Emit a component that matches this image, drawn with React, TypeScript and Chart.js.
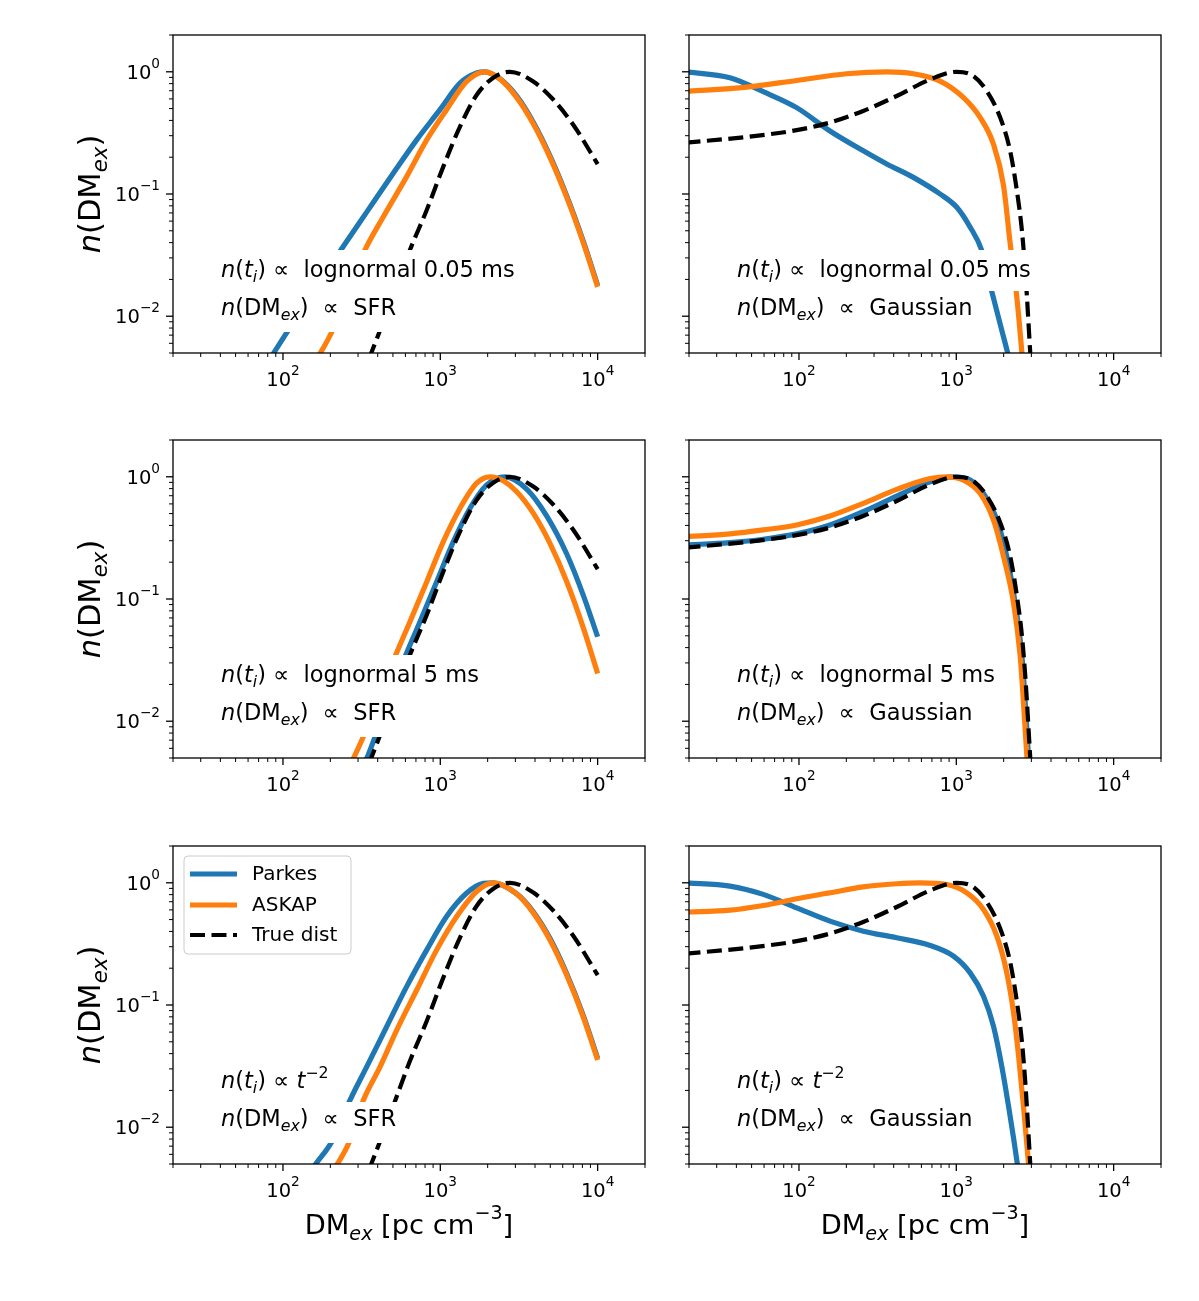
import React, { useEffect, useRef } from 'react';
import { Chart, registerables } from 'chart.js';

Chart.register(...registerables);

const FONT = '"DejaVu Sans", "Liberation Sans", sans-serif';
const BLUE = '#1f77b4';
const ORANGE = '#ff7f0e';
const BLACK = '#000000';

// ---------- axes ----------
const X_MIN = 20;
const X_MAX = 20000;
const Y_MIN = 0.005;
const Y_MAX = 2;
const X_TICKS = [100, 1000, 10000];
const X_TICK_EXP = ['2', '3', '4'];
const Y_TICKS = [0.01, 0.1, 1];
const Y_TICK_EXP = ['−2', '−1', '0'];
const X_MINOR = [20, 30, 40, 50, 60, 70, 80, 90, 200, 300, 400, 500, 600, 700, 800, 900, 2000, 3000, 4000, 5000, 6000, 7000, 8000, 9000, 20000];
const Y_MINOR = [0.005, 0.006, 0.007, 0.008, 0.009, 0.02, 0.03, 0.04, 0.05, 0.06, 0.07, 0.08, 0.09, 0.2, 0.3, 0.4, 0.5, 0.6, 0.7, 0.8, 0.9, 2];

const SERIES_LABELS = ['Parkes', 'ASKAP', 'True dist'];

// ---------- true distributions ----------
const trueSfrDM = [316, 366, 414, 501, 641, 820, 1045, 1334, 1702, 2173, 2773, 3899, 5236, 7015, 10000];
const trueSfrN = [0.00309, 0.00509, 0.00767, 0.0148, 0.0348, 0.074, 0.1675, 0.3565, 0.646, 0.895, 1.0, 0.832, 0.59, 0.367, 0.1758];

const trueGaussDM = [19, 46.5, 96.6, 157, 256, 418, 682, 1007, 1285, 1563, 1901, 2198, 2427, 2612, 2742, 2812, 2951, 3055];
const trueGaussN = [0.263, 0.293, 0.333, 0.384, 0.478, 0.634, 0.866, 1.0, 0.923, 0.695, 0.422, 0.2254, 0.1064, 0.0502, 0.0237, 0.01439, 0.00502, 0.00251];

// ---------- top-left: lognormal 0.05 ms, SFR ----------
const parkesTL_DM = [70.8, 87.9, 113, 158.5, 241.5, 340.4, 502.3, 707.9, 995.4, 1334, 1702, 1923, 2399, 3062, 3899, 4977, 6353, 8110, 10000];
const parkesTL_N = [0.00324, 0.00507, 0.00841, 0.0164, 0.03715, 0.0711, 0.1479, 0.2773, 0.4898, 0.807, 0.977, 1.0, 0.875, 0.633, 0.387, 0.2055, 0.097, 0.041, 0.0179];
const askapTL_DM = [141, 171.8, 204.2, 331.9, 434.5, 611, 820, 1096, 1472, 1923, 2399, 3062, 3899, 4977, 6353, 8110, 10000];
const askapTL_N = [0.00331, 0.00494, 0.00743, 0.0348, 0.0652, 0.1387, 0.2773, 0.4898, 0.834, 1.0, 0.871, 0.615, 0.376, 0.1995, 0.0942, 0.0398, 0.01738];

// ---------- top-right: lognormal 0.05 ms, Gaussian ----------
const parkesTR_DM = [19, 36.4, 59.3, 96.6, 157.4, 256.4, 361.4, 533.3, 788.9, 1007, 1225, 1452, 1683, 1950, 2148, 2344];
const parkesTR_N = [1.0, 0.893, 0.687, 0.509, 0.328, 0.2254, 0.1758, 0.1368, 0.1, 0.0778, 0.0535, 0.0345, 0.01585, 0.00759, 0.00468, 0.00282];
const askapTR_DM = [19, 46.45, 96.6, 200.9, 361.4, 533.3, 788.9, 1112, 1419, 1722, 1995, 2198, 2427, 2612, 2754];
const askapTR_N = [0.692, 0.75, 0.849, 0.964, 1.0, 0.964, 0.8395, 0.6138, 0.4217, 0.2559, 0.1175, 0.0398, 0.01413, 0.00501, 0.00224];

// ---------- middle-left: lognormal 5 ms, SFR ----------
const parkesML_DM = [281.8, 340.4, 384.6, 597, 743, 948.4, 1211, 1545, 1972, 2576, 3540, 4742, 6353, 8110, 10000];
const parkesML_N = [0.00316, 0.00494, 0.00743, 0.03365, 0.0652, 0.1387, 0.2951, 0.5534, 0.859, 1.0, 0.794, 0.479, 0.2344, 0.1072, 0.0491];
const askapML_DM = [234.4, 279.9, 323.6, 515.2, 641.2, 820.4, 1045, 1334, 1702, 2070, 2512, 3062, 3899, 4977, 6353, 8110, 10000];
const askapML_N = [0.00316, 0.00494, 0.00743, 0.03365, 0.0652, 0.1387, 0.2951, 0.5534, 0.887, 1.0, 0.927, 0.755, 0.5035, 0.285, 0.139, 0.0581, 0.0246];

// ---------- middle-right: lognormal 5 ms, Gaussian ----------
const parkesMR_DM = [19, 36.4, 59.3, 96.6, 157.4, 256.4, 417.8, 682.3, 959.4, 1225, 1489, 1811, 2094, 2366, 2612, 2742, 2877, 2951];
const parkesMR_N = [0.2767, 0.2897, 0.3083, 0.341, 0.4036, 0.5188, 0.695, 0.9099, 1.0, 0.9397, 0.7311, 0.4436, 0.2228, 0.0927, 0.0341, 0.01419, 0.00506, 0.00282];
const askapMR_DM = [19, 36.4, 59.3, 96.6, 157.4, 256.4, 417.8, 682.3, 871, 1112, 1419, 1722, 1995, 2312, 2547, 2673, 2812, 2884];
const askapMR_N = [0.3236, 0.341, 0.3673, 0.4036, 0.4775, 0.6067, 0.7889, 0.9683, 1.0, 0.9397, 0.7311, 0.4436, 0.2228, 0.0927, 0.0341, 0.01419, 0.00506, 0.00282];

// ---------- bottom-left: t^-2, SFR ----------
const parkesBL_DM = [131.8, 159.6, 204.2, 266.7, 340.4, 456, 611, 820.4, 1096, 1472, 1875, 2173, 3062, 3899, 4977, 6353, 8110, 10000];
const parkesBL_N = [0.00331, 0.00489, 0.00759, 0.01663, 0.03119, 0.0664, 0.1413, 0.2825, 0.5297, 0.824, 0.989, 1.0, 0.812, 0.58, 0.351, 0.181, 0.0818, 0.0366];
const askapBL_DM = [182, 219.3, 264.2, 324.3, 414, 528.4, 707.9, 948.4, 1271, 1702, 2173, 3062, 3899, 4977, 6353, 8110, 10000];
const askapBL_N = [0.00347, 0.00489, 0.00759, 0.01663, 0.03119, 0.0624, 0.1327, 0.2825, 0.5297, 0.849, 1.0, 0.809, 0.5675, 0.3404, 0.1758, 0.0794, 0.0355];

// ---------- bottom-right: t^-2, Gaussian ----------
const parkesBR_DM = [19, 36.4, 59.3, 96.6, 157.4, 256.4, 417.8, 682.3, 959.4, 1225, 1489, 1722, 1945, 2148, 2312, 2443, 2570];
const parkesBR_N = [1.0, 0.9397, 0.8035, 0.6237, 0.4853, 0.4018, 0.3548, 0.3069, 0.2512, 0.1832, 0.118, 0.0671, 0.03155, 0.01486, 0.00813, 0.00501, 0.00316];
const askapBR_DM = [19, 36.4, 59.3, 96.6, 157.4, 256.4, 417.8, 588.8, 871, 1167, 1489, 1811, 2094, 2312, 2489, 2673, 2877, 2985];
const askapBR_N = [0.5754, 0.597, 0.6516, 0.7396, 0.8279, 0.9268, 0.9817, 1.0, 0.9683, 0.8279, 0.6053, 0.3656, 0.1832, 0.0863, 0.0381, 0.01486, 0.00505, 0.00282];

// ---------- texts ----------
type Seg = { t: string; it?: boolean; sub?: boolean; sup?: boolean };

const TI_PREFIX: Seg[] = [{ t: 'n', it: true }, { t: '(' }, { t: 't', it: true }, { t: 'i', it: true, sub: true }, { t: ')' }];
const LINE_LOGN_005: Seg[] = [...TI_PREFIX, { t: ' ∝  lognormal 0.05 ms' }];
const LINE_LOGN_5: Seg[] = [...TI_PREFIX, { t: ' ∝  lognormal 5 ms' }];
const LINE_POW: Seg[] = [...TI_PREFIX, { t: ' ∝ ' }, { t: 't', it: true }, { t: '−2', sup: true }];
const DM_PREFIX: Seg[] = [{ t: 'n', it: true }, { t: '(DM' }, { t: 'ex', it: true, sub: true }, { t: ')' }];
const LINE_SFR: Seg[] = [...DM_PREFIX, { t: '  ∝  SFR' }];
const LINE_GAUSS: Seg[] = [...DM_PREFIX, { t: '  ∝  Gaussian' }];
const Y_TITLE: Seg[] = [{ t: 'n', it: true }, { t: '(DM' }, { t: 'ex', it: true, sub: true }, { t: ')' }];
const X_TITLE: Seg[] = [{ t: 'DM' }, { t: 'ex', it: true, sub: true }, { t: ' [pc cm' }, { t: '−3', sup: true }, { t: ']' }];

type Curve = [number[], number[]];
type Panel = {
  row: number;
  col: number;
  parkes: Curve;
  askap: Curve;
  truth: Curve;
  line1: Seg[];
  line2: Seg[];
  legend?: boolean;
};

const PANELS: Panel[] = [
  { row: 0, col: 0, parkes: [parkesTL_DM, parkesTL_N], askap: [askapTL_DM, askapTL_N], truth: [trueSfrDM, trueSfrN], line1: LINE_LOGN_005, line2: LINE_SFR },
  { row: 0, col: 1, parkes: [parkesTR_DM, parkesTR_N], askap: [askapTR_DM, askapTR_N], truth: [trueGaussDM, trueGaussN], line1: LINE_LOGN_005, line2: LINE_GAUSS },
  { row: 1, col: 0, parkes: [parkesML_DM, parkesML_N], askap: [askapML_DM, askapML_N], truth: [trueSfrDM, trueSfrN], line1: LINE_LOGN_5, line2: LINE_SFR },
  { row: 1, col: 1, parkes: [parkesMR_DM, parkesMR_N], askap: [askapMR_DM, askapMR_N], truth: [trueGaussDM, trueGaussN], line1: LINE_LOGN_5, line2: LINE_GAUSS },
  { row: 2, col: 0, parkes: [parkesBL_DM, parkesBL_N], askap: [askapBL_DM, askapBL_N], truth: [trueSfrDM, trueSfrN], line1: LINE_POW, line2: LINE_SFR, legend: true },
  { row: 2, col: 1, parkes: [parkesBR_DM, parkesBR_N], askap: [askapBR_DM, askapBR_N], truth: [trueGaussDM, trueGaussN], line1: LINE_POW, line2: LINE_GAUSS },
];

// ---------- layout ----------
const PLOT_LEFT = [173, 689];
const PLOT_RIGHT = [645, 1161];
const PLOT_TOP = [35, 440, 846];
const PLOT_H = 318;
const CANVAS_LEFT = [40, 665];
const CANVAS_RIGHT = [665, 1199];
const TOP_PAD = 15;
const BOTTOM_SPACE = 95;

const ANN_SIZE = 22.5;
const TICK_SIZE = 19.5;
const LEGEND_SIZE = 20;
const Y_TITLE_SIZE = 30.5;
const X_TITLE_SIZE = 27.3;
const COLOR_LW = 5.2;
const BLACK_LW = 4.2;
const DASH = [15, 6.5];

function geometry(p: Panel) {
  const cl = CANVAS_LEFT[p.col];
  const cw = CANVAS_RIGHT[p.col] - cl;
  const ct = PLOT_TOP[p.row] - TOP_PAD;
  const ch = TOP_PAD + PLOT_H + BOTTOM_SPACE;
  const yWidth = PLOT_LEFT[p.col] - cl;
  const padRight = CANVAS_RIGHT[p.col] - PLOT_RIGHT[p.col];
  return { cl, cw, ct, ch, yWidth, padRight };
}

function drawRich(
  ctx: CanvasRenderingContext2D,
  segs: Seg[],
  x: number,
  y: number,
  size: number,
  draw = true,
  supShift = 0.45,
): number {
  let cx = x;
  for (const s of segs) {
    const small = s.sub || s.sup;
    const sz = small ? size * 0.7 : size;
    ctx.font = `${s.it ? 'italic ' : ''}${sz}px ${FONT}`;
    const dy = s.sub ? size * 0.22 : s.sup ? -size * supShift : 0;
    if (draw) ctx.fillText(s.t, cx, y + dy);
    cx += ctx.measureText(s.t).width;
  }
  return cx - x;
}

function zeroPadding(s: any) {
  s.paddingTop = 0;
  s.paddingBottom = 0;
  s.paddingLeft = 0;
  s.paddingRight = 0;
}

function makeDecor(p: Panel) {
  return {
    id: 'decor',
    afterDatasetsDraw(chart: any) {
      const ctx: CanvasRenderingContext2D = chart.ctx;
      const ca = chart.chartArea;
      const xs = chart.scales.x;
      const ys = chart.scales.y;
      ctx.save();

      // frame
      ctx.strokeStyle = '#000';
      ctx.lineWidth = 1.3;
      ctx.strokeRect(ca.left, ca.top, ca.right - ca.left, ca.bottom - ca.top);

      const seg = (x1: number, y1: number, x2: number, y2: number, w: number) => {
        ctx.lineWidth = w;
        ctx.beginPath();
        ctx.moveTo(x1, y1);
        ctx.lineTo(x2, y2);
        ctx.stroke();
      };
      for (const v of X_TICKS) {
        const px = xs.getPixelForValue(v);
        seg(px, ca.bottom, px, ca.bottom + 7, 1.3);
      }
      for (const v of X_MINOR) {
        if (v < X_MIN || v > X_MAX) continue;
        const px = xs.getPixelForValue(v);
        seg(px, ca.bottom, px, ca.bottom + 4, 1);
      }
      for (const v of Y_TICKS) {
        const py = ys.getPixelForValue(v);
        seg(ca.left - 7, py, ca.left, py, 1.3);
      }
      for (const v of Y_MINOR) {
        if (v < Y_MIN || v > Y_MAX) continue;
        const py = ys.getPixelForValue(v);
        seg(ca.left - 4, py, ca.left, py, 1);
      }

      // tick labels
      ctx.fillStyle = '#000';
      ctx.textAlign = 'left';
      ctx.textBaseline = 'alphabetic';
      X_TICKS.forEach((v, i) => {
        const segs: Seg[] = [{ t: '10' }, { t: X_TICK_EXP[i], sup: true }];
        const w = drawRich(ctx, segs, 0, 0, TICK_SIZE, false, 0.55);
        const px = xs.getPixelForValue(v);
        drawRich(ctx, segs, px - w / 2, ca.bottom + 33, TICK_SIZE, true, 0.55);
      });
      if (p.col === 0) {
        Y_TICKS.forEach((v, i) => {
          const segs: Seg[] = [{ t: '10' }, { t: Y_TICK_EXP[i], sup: true }];
          const w = drawRich(ctx, segs, 0, 0, TICK_SIZE, false, 0.55);
          const py = ys.getPixelForValue(v);
          drawRich(ctx, segs, ca.left - 13 - w, py + 7, TICK_SIZE, true, 0.55);
        });
      }

      // annotation text with white boxes
      const tx = ca.left + 48;
      const b1 = ca.top + 242;
      const b2 = ca.top + 280;
      const w1 = drawRich(ctx, p.line1, tx, b1, ANN_SIZE, false);
      const w2 = drawRich(ctx, p.line2, tx, b2, ANN_SIZE, false);
      ctx.fillStyle = '#ffffff';
      ctx.fillRect(tx - 5, b1 - 27, w1 + 10, 41);
      ctx.fillRect(tx - 5, b2 - 24, w2 + 10, 41);
      ctx.fillStyle = '#000';
      drawRich(ctx, p.line1, tx, b1, ANN_SIZE);
      drawRich(ctx, p.line2, tx, b2, ANN_SIZE);

      // legend
      if (p.legend) {
        const lx = ca.left + 11;
        const ly = ca.top + 10;
        const lw = 167;
        const lh = 98;
        const r = 4;
        ctx.beginPath();
        ctx.moveTo(lx + r, ly);
        ctx.lineTo(lx + lw - r, ly);
        ctx.arcTo(lx + lw, ly, lx + lw, ly + r, r);
        ctx.lineTo(lx + lw, ly + lh - r);
        ctx.arcTo(lx + lw, ly + lh, lx + lw - r, ly + lh, r);
        ctx.lineTo(lx + r, ly + lh);
        ctx.arcTo(lx, ly + lh, lx, ly + lh - r, r);
        ctx.lineTo(lx, ly + r);
        ctx.arcTo(lx, ly, lx + r, ly, r);
        ctx.closePath();
        ctx.fillStyle = 'rgba(255,255,255,0.8)';
        ctx.fill();
        ctx.strokeStyle = '#cccccc';
        ctx.lineWidth = 1;
        ctx.stroke();
        const rows = [ly + 18, ly + 49, ly + 79];
        chart.data.datasets.forEach((ds: any, i: number) => {
          const ry = rows[i];
          ctx.strokeStyle = ds.borderColor;
          ctx.lineWidth = ds.borderWidth;
          ctx.setLineDash(ds.borderDash || []);
          ctx.lineCap = 'butt';
          ctx.beginPath();
          ctx.moveTo(lx + 6, ry);
          ctx.lineTo(lx + 53, ry);
          ctx.stroke();
          ctx.setLineDash([]);
          ctx.fillStyle = '#000';
          ctx.font = `${LEGEND_SIZE}px ${FONT}`;
          ctx.textBaseline = 'middle';
          ctx.fillText(ds.label, lx + 68, ry + 1);
        });
        ctx.textBaseline = 'alphabetic';
      }

      // axis titles
      ctx.fillStyle = '#000';
      if (p.col === 0) {
        const w = drawRich(ctx, Y_TITLE, 0, 0, Y_TITLE_SIZE, false);
        ctx.save();
        ctx.translate(ca.left - 73, (ca.top + ca.bottom) / 2);
        ctx.rotate(-Math.PI / 2);
        drawRich(ctx, Y_TITLE, -w / 2, 0, Y_TITLE_SIZE);
        ctx.restore();
      }
      if (p.row === 2) {
        const w = drawRich(ctx, X_TITLE, 0, 0, X_TITLE_SIZE, false, 0.55);
        drawRich(ctx, X_TITLE, (ca.left + ca.right) / 2 - w / 2, ca.bottom + 70, X_TITLE_SIZE, true, 0.55);
      }
      ctx.restore();
    },
  };
}

function toPoints(c: Curve) {
  return c[0].map((x, i) => ({ x, y: c[1][i] }));
}

function PanelChart({ p }: { p: Panel }) {
  const ref = useRef<HTMLCanvasElement>(null);
  const g = geometry(p);
  useEffect(() => {
    if (!ref.current) return;
    const common = {
      pointRadius: 0,
      fill: false,
      cubicInterpolationMode: 'monotone' as const,
      clip: 0,
    };
    const chart = new Chart(ref.current, {
      type: 'line',
      data: {
        datasets: [
          { ...common, label: SERIES_LABELS[0], data: toPoints(p.parkes), borderColor: BLUE, borderWidth: COLOR_LW, order: 3 },
          { ...common, label: SERIES_LABELS[1], data: toPoints(p.askap), borderColor: ORANGE, borderWidth: COLOR_LW, order: 2 },
          { ...common, label: SERIES_LABELS[2], data: toPoints(p.truth), borderColor: BLACK, borderWidth: BLACK_LW, borderDash: DASH, order: 1 },
        ],
      },
      options: {
        animation: false,
        responsive: false,
        maintainAspectRatio: false,
        devicePixelRatio: 1,
        events: [],
        layout: { padding: { top: TOP_PAD, right: g.padRight, left: 0, bottom: 0 } },
        elements: { line: { capBezierPoints: false, borderCapStyle: 'butt' } },
        plugins: { legend: { display: false }, tooltip: { enabled: false } },
        scales: {
          x: {
            type: 'logarithmic',
            min: X_MIN,
            max: X_MAX,
            afterBuildTicks: (s: any) => {
              s.ticks = X_TICKS.map((v) => ({ value: v }));
            },
            afterFit: (s: any) => {
              s.height = BOTTOM_SPACE;
              zeroPadding(s);
            },
            grid: { display: false, drawTicks: false },
            border: { display: false },
            ticks: { display: false },
          },
          y: {
            type: 'logarithmic',
            min: Y_MIN,
            max: Y_MAX,
            afterBuildTicks: (s: any) => {
              s.ticks = Y_TICKS.map((v) => ({ value: v }));
            },
            afterFit: (s: any) => {
              s.width = g.yWidth;
              zeroPadding(s);
            },
            grid: { display: false, drawTicks: false },
            border: { display: false },
            ticks: { display: false },
          },
        },
      } as any,
      plugins: [makeDecor(p)],
    });
    return () => chart.destroy();
  }, [p]);
  return (
    <canvas
      ref={ref}
      width={g.cw}
      height={g.ch}
      style={{ position: 'absolute', left: g.cl, top: g.ct, width: g.cw, height: g.ch }}
    />
  );
}

export default function App() {
  return (
    <div style={{ position: 'absolute', left: 0, top: 0, width: 1199, height: 1301, background: '#ffffff' }}>
      {PANELS.map((p, i) => (
        <PanelChart key={i} p={p} />
      ))}
    </div>
  );
}
